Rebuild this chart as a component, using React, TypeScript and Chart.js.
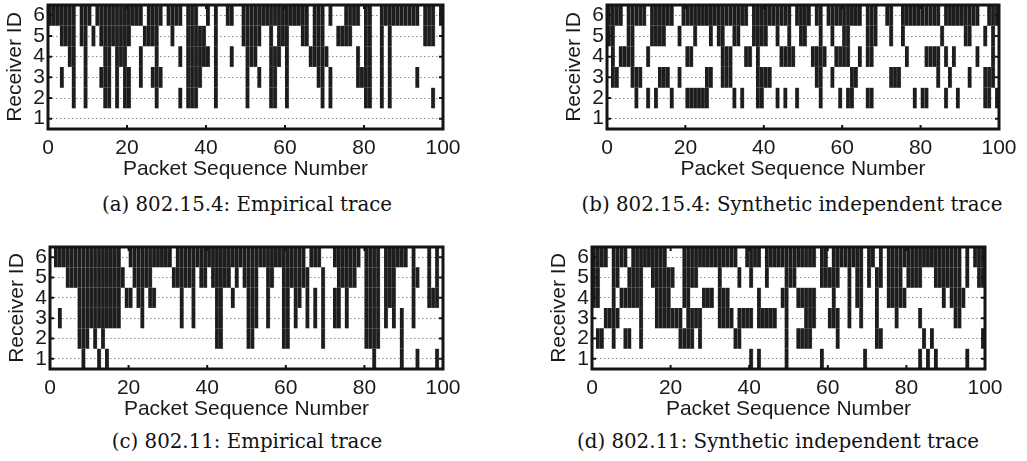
import React, { useEffect, useRef } from 'react';
import { Chart, registerables } from 'chart.js';
Chart.register(...registerables);

const X_TICKS = [0, 20, 40, 60, 80, 100];
const RECEIVERS = [1, 2, 3, 4, 5, 6];
const X_LABEL = 'Packet Sequence Number';
const Y_LABEL = 'Receiver ID';

// Lost packets per receiver, as runs [first, last] of packet sequence numbers
// (a) 802.15.4 empirical
const A_R6 = [[1,7],[9,11],[13,24],[26,29],[31,34],[36,38],[41,41],[43,43],[46,47],[50,66],[68,70],[72,72],[76,79],[81,82],[85,94],[96,98],[100,100]];
const A_R5 = [[4,7],[9,10],[12,12],[14,21],[25,28],[32,32],[36,40],[43,43],[50,54],[57,57],[59,61],[65,66],[68,70],[74,77],[81,82],[85,85],[87,87],[96,98]];
const A_R4 = [[6,7],[10,10],[15,16],[18,20],[24,24],[28,28],[34,34],[36,41],[43,43],[47,47],[51,53],[57,59],[61,61],[67,71],[79,79],[81,82],[85,85],[87,87]];
const A_R3 = [[4,4],[7,7],[10,10],[14,16],[18,18],[20,21],[24,24],[27,29],[36,39],[43,43],[51,51],[54,54],[57,58],[61,61],[69,70],[72,72],[79,82],[85,85],[87,87],[94,94]];
const A_R2 = [[7,7],[10,10],[15,16],[18,18],[20,21],[28,28],[34,34],[36,38],[43,43],[51,51],[57,58],[61,61],[70,70],[72,72],[81,82],[85,85],[87,87],[98,98]];
const A_R1: number[][] = [];

// (b) 802.15.4 synthetic independent
const B_R6 = [[1,4],[6,10],[12,17],[20,36],[38,47],[49,52],[54,55],[57,65],[67,69],[72,73],[76,85],[87,95],[98,100]];
const B_R5 = [[1,2],[6,7],[12,15],[19,19],[23,23],[27,27],[29,30],[33,34],[38,41],[44,44],[47,47],[50,51],[55,55],[58,58],[61,62],[67,69],[73,73],[76,76],[86,86],[92,93],[97,97],[99,99]];
const B_R4 = [[2,2],[4,7],[11,11],[21,22],[30,32],[36,37],[39,39],[45,48],[53,56],[59,62],[65,65],[67,68],[77,77],[82,85],[87,87],[89,89],[95,95],[99,99]];
const B_R3 = [[2,3],[7,9],[14,16],[19,19],[26,27],[30,32],[39,42],[54,55],[58,58],[63,64],[73,75],[85,85],[88,88],[93,93],[97,99]];
const B_R2 = [[8,8],[11,11],[13,13],[17,17],[21,26],[33,33],[35,35],[39,40],[44,44],[46,46],[49,49],[55,55],[60,60],[62,63],[67,68],[79,79],[81,82],[87,87],[90,90],[97,98],[100,100]];
const B_R1: number[][] = [];

// (c) 802.11 empirical
const C_R6 = [[2,18],[21,31],[33,65],[67,69],[73,79],[81,84],[86,91],[93,93],[97,97],[99,99]];
const C_R5 = [[5,19],[22,26],[32,37],[39,40],[42,46],[48,48],[50,53],[56,57],[60,66],[70,70],[74,78],[81,84],[86,88],[93,94],[97,97],[99,99]];
const C_R4 = [[8,18],[20,21],[23,24],[26,27],[34,34],[37,37],[43,44],[47,47],[51,53],[56,56],[60,61],[63,64],[66,66],[68,68],[70,70],[73,74],[76,76],[81,84],[86,88],[93,93],[97,99]];
const C_R3 = [[3,3],[8,18],[24,24],[34,34],[37,37],[43,44],[51,53],[56,56],[60,61],[63,63],[66,66],[68,68],[70,70],[73,74],[76,76],[81,84],[86,86],[88,88],[90,90],[93,93]];
const C_R2 = [[8,10],[12,12],[14,14],[43,44],[51,52],[60,61],[70,70],[81,84],[90,90]];
const C_R1 = [[9,9],[13,13],[15,15],[83,83],[90,90],[94,94],[99,99]];

// (d) 802.11 synthetic independent
const D_R6 = [[1,4],[6,9],[11,19],[24,37],[40,43],[45,57],[59,60],[62,69],[71,72],[74,74],[76,94],[96,96],[98,100]];
const D_R5 = [[1,2],[6,7],[10,13],[16,21],[24,27],[33,33],[38,38],[41,41],[45,45],[50,52],[59,63],[66,66],[68,69],[71,71],[73,74],[76,79],[81,84],[88,94],[96,96],[99,100]];
const D_R4 = [[1,2],[6,6],[8,13],[17,20],[24,25],[29,31],[33,35],[43,43],[49,50],[53,57],[62,62],[66,66],[68,69],[73,73],[76,80],[90,90],[92,95]];
const D_R3 = [[4,7],[13,13],[17,23],[25,28],[33,36],[38,41],[43,47],[50,50],[55,57],[61,63],[66,66],[69,69],[73,73],[78,78],[84,84],[93,94]];
const D_R2 = [[2,3],[6,6],[9,10],[13,13],[23,26],[28,28],[37,38],[50,50],[53,56],[63,63],[73,74],[85,85],[87,87],[100,100]];
const D_R1 = [[41,41],[43,43],[50,50],[59,59],[70,70],[84,84],[86,86],[88,88],[96,96]];

const CAPTIONS = [
  '(a) 802.15.4: Empirical trace',
  '(b) 802.15.4: Synthetic independent trace',
  '(c) 802.11: Empirical trace',
  '(d) 802.11: Synthetic independent trace',
];
const PANEL_ROWS = [
  [A_R1, A_R2, A_R3, A_R4, A_R5, A_R6],
  [B_R1, B_R2, B_R3, B_R4, B_R5, B_R6],
  [C_R1, C_R2, C_R3, C_R4, C_R5, C_R6],
  [D_R1, D_R2, D_R3, D_R4, D_R5, D_R6],
];

// layout (pixels) — plot-area boxes and caption centres
const BOXES = [
  { l: 48, t: 5, r: 443, b: 129, cx: 247, cy: 205 },
  { l: 607, t: 5, r: 999, b: 129, cx: 792, cy: 205 },
  { l: 50, t: 247, r: 443, b: 369, cx: 247, cy: 442 },
  { l: 592, t: 247, r: 985, b: 369, cx: 778, cy: 442 },
];
const Y_W = 48;
const X_H = 56;
const PAD_T = 5;
const PAD_R = 26;
const SANS = '"Liberation Sans", Arial, Helvetica, sans-serif';
const TXT = '#1a1a1a';

const framePlugin = {
  id: 'frame',
  afterDatasetsDraw(chart: any) {
    const { ctx, chartArea, scales } = chart;
    const { left, right, top, bottom } = chartArea;
    ctx.save();
    ctx.strokeStyle = '#151515';
    ctx.lineWidth = 2;
    ctx.beginPath();
    X_TICKS.forEach((v) => {
      const px = scales.x.getPixelForValue(v);
      ctx.moveTo(px, bottom);
      ctx.lineTo(px, bottom - 4);
      ctx.moveTo(px, top);
      ctx.lineTo(px, top + 4);
    });
    RECEIVERS.forEach((v) => {
      const py = scales.y.getPixelForValue(v);
      ctx.moveTo(left, py);
      ctx.lineTo(left + 4, py);
      ctx.moveTo(right, py);
      ctx.lineTo(right - 4, py);
    });
    ctx.stroke();
    ctx.lineWidth = 3;
    ctx.strokeRect(left, top, right - left, bottom - top);
    ctx.restore();
  },
};

function Panel({ idx }: { idx: number }) {
  const ref = useRef<HTMLCanvasElement>(null);
  const box = BOXES[idx];
  const width = box.r - box.l + Y_W + PAD_R;
  const height = box.b - box.t + PAD_T + X_H;
  useEffect(() => {
    const rows = PANEL_ROWS[idx];
    const datasets = RECEIVERS.map((rcv, k) => {
      const pts: any[] = [];
      rows[k].forEach(([s, e]) => {
        for (let p = s; p <= e; p++) pts.push({ x: p - 0.5, y: [rcv - 0.5, rcv + 0.5] });
      });
      return {
        label: 'Receiver ' + rcv,
        data: pts,
        backgroundColor: '#1d1d1d',
        borderColor: '#8a8a8a',
        borderWidth: { left: 0, right: 0.6, top: 0, bottom: 0.6 },
        borderSkipped: false,
        barPercentage: 1,
        categoryPercentage: 1,
        grouped: false,
      };
    });
    const chart = new Chart(ref.current!, {
      type: 'bar',
      data: { datasets } as any,
      options: {
        animation: false,
        responsive: false,
        maintainAspectRatio: false,
        layout: { padding: { top: PAD_T, right: PAD_R, left: 0, bottom: 0 } },
        plugins: { legend: { display: false }, tooltip: { enabled: false } },
        scales: {
          x: {
            type: 'linear',
            min: 0,
            max: 100,
            offset: false,
            afterBuildTicks: (s: any) => { s.ticks = X_TICKS.map((v) => ({ value: v })); },
            afterFit: (s: any) => { s.height = X_H; s.paddingLeft = 0; s.paddingRight = 0; },
            grid: { display: false, drawTicks: false },
            border: { display: false },
            ticks: { padding: 7, maxRotation: 0, autoSkip: false, color: TXT, font: { family: SANS, size: 21 } },
            title: { display: true, text: X_LABEL, color: TXT, font: { family: SANS, size: 21, lineHeight: 1.2 }, padding: { top: 0, bottom: 3 } },
          },
          y: {
            type: 'linear',
            min: 0.5,
            max: 6.5,
            afterBuildTicks: (s: any) => { s.ticks = RECEIVERS.map((v) => ({ value: v })); },
            afterFit: (s: any) => { s.width = Y_W; s.paddingTop = 0; s.paddingBottom = 0; },
            grid: { color: '#8c8c8c', lineWidth: 1, drawTicks: false },
            border: { display: false, dash: [1.5, 2.5] },
            ticks: { padding: 3, autoSkip: false, color: TXT, font: { family: SANS, size: 21 } },
            title: { display: true, text: Y_LABEL, color: TXT, font: { family: SANS, size: 21, lineHeight: 1 }, padding: { top: 5, bottom: 0 } },
          },
        },
      } as any,
      plugins: [framePlugin],
    });
    return () => chart.destroy();
  }, [idx]);
  return (
    <canvas
      ref={ref}
      width={width}
      height={height}
      style={{ position: 'absolute', left: box.l - Y_W, top: box.t - PAD_T, width, height }}
    />
  );
}

export default function App() {
  return (
    <div style={{ position: 'absolute', left: 0, top: 0, width: 1027, height: 461, background: '#fff', overflow: 'hidden' }}>
      {BOXES.map((b, i) => (
        <React.Fragment key={i}>
          <Panel idx={i} />
          <div
            style={{
              position: 'absolute',
              left: b.cx - 300,
              width: 600,
              top: b.cy - 13,
              height: 26,
              lineHeight: '26px',
              textAlign: 'center',
              fontFamily: '"DejaVu Serif", serif',
              fontSize: 19.8,
              color: '#111',
              whiteSpace: 'nowrap',
            }}
          >
            {CAPTIONS[i]}
          </div>
        </React.Fragment>
      ))}
    </div>
  );
}
